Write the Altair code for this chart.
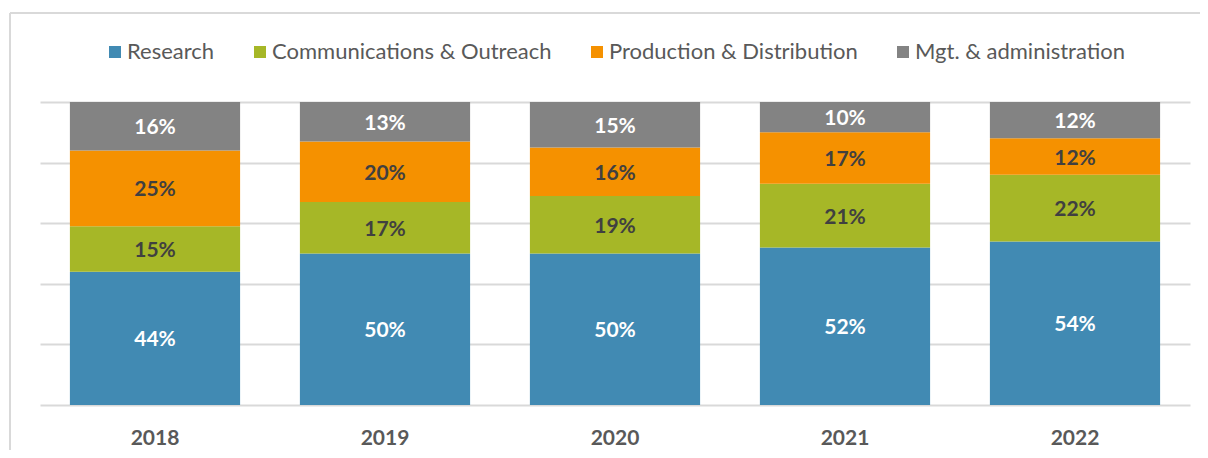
import altair as alt
import pandas as pd

years = ["2018", "2019", "2020", "2021", "2022"]
categories = ["Research", "Communications & Outreach", "Production & Distribution", "Mgt. & administration"]
colors = ["#418AB3", "#A6B727", "#F59100", "#838383"]
research = [44, 50, 50, 52, 54]
comms = [15, 17, 19, 21, 22]
prod = [25, 20, 16, 17, 12]
mgt = [16, 13, 15, 10, 12]

series = [research, comms, prod, mgt]
rows = []
for ci, (cat, vals) in enumerate(zip(categories, series)):
    for y, v in zip(years, vals):
        rows.append({"year": y, "category": cat, "idx": ci, "value": v, "label": f"{v}%"})
df = pd.DataFrame(rows)

x_enc = alt.X("year:N", sort=years, title=None,
              scale=alt.Scale(paddingInner=0.26, paddingOuter=0.13),
              axis=alt.Axis(labelAngle=0, labelFontSize=21, labelFontWeight="bold",
                            labelColor="#595959", ticks=False, domain=False,
                            labelPadding=22, grid=False))

bars = alt.Chart(df).mark_bar().encode(
    x=x_enc,
    y=alt.Y("value:Q", stack="zero", title=None,
            scale=alt.Scale(domain=[0, 100], nice=False),
            axis=alt.Axis(values=[0, 20, 40, 60, 80, 100], labels=False, ticks=False,
                          domain=False, grid=True, gridColor="#D9D9D9", gridWidth=2)),
    color=alt.Color("category:N", scale=alt.Scale(domain=categories, range=colors),
                    legend=alt.Legend(title=None, orient="none", direction="horizontal",
                                      legendX=64, legendY=-61, labelFontSize=22,
                                      labelColor="#595959", symbolType="square",
                                      symbolSize=144, symbolStrokeWidth=0,
                                      columnPadding=34, labelOffset=1, padding=0,
                                      labelLimit=400)),
    order=alt.Order("idx:Q", sort="ascending"),
)

labels = alt.Chart(df).transform_stack(
    stack="value", groupby=["year"], as_=["y0", "y1"],
    sort=[alt.SortField("idx", order="ascending")]
).transform_calculate(
    mid="(datum.y0 + datum.y1) / 2"
).mark_text(fontSize=21, fontWeight="bold", baseline="middle", dy=2).encode(
    x=alt.X("year:N", sort=years),
    y=alt.Y("mid:Q"),
    text="label:N",
    color=alt.condition("datum.category == 'Research' || datum.category == 'Mgt. & administration'",
                        alt.value("white"), alt.value("#404040")),
)

one = pd.DataFrame({"a": [0]})
border_top = alt.Chart(one).mark_rule(stroke="#D9D9D9", strokeWidth=2).encode(
    x=alt.value(-30), x2=alt.value(1170), y=alt.value(-89), y2=alt.value(-89))
border_left = alt.Chart(one).mark_rule(stroke="#D9D9D9", strokeWidth=2).encode(
    x=alt.value(-30), x2=alt.value(-30), y=alt.value(-89), y2=alt.value(400))

chart = alt.layer(border_top, border_left, bars, labels).properties(
    width=1150, height=303,
    autosize=alt.AutoSizeParams(type="none"),
    padding={"left": 32, "top": 94, "right": 10, "bottom": 45},
).configure(font="Lato").configure_view(stroke=None)

chart.save("out.html", embed_options={"renderer": "svg", "actions": False})
